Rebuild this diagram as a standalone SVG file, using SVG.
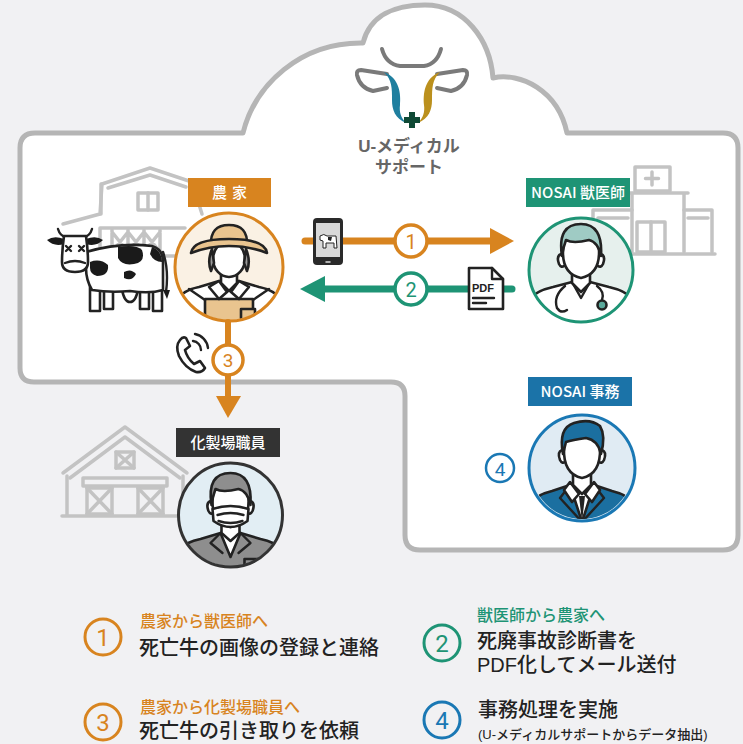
<svg xmlns="http://www.w3.org/2000/svg" width="743" height="744" viewBox="0 0 743 744">
  <style>
    .jp { font-family: "Noto Sans CJK JP", "Noto Sans", sans-serif; }
    .jl { font-family: "Liberation Sans", "Noto Sans CJK JP", sans-serif; }
    .num { font-family: Roboto, "Noto Sans", sans-serif; }
    .bld { fill: none; stroke: #c3c3c3; stroke-width: 3.5; stroke-linejoin: round; stroke-linecap: round; }
    .ink { stroke: #222; stroke-width: 2.6; stroke-linejoin: round; stroke-linecap: round; }
    .line { fill: none; stroke: #222; stroke-width: 2.4; stroke-linecap: round; stroke-linejoin: round; }
    .logo { fill: none; stroke: #7a7a7a; stroke-width: 4; stroke-linecap: round; stroke-linejoin: round; }
    .lbl { fill: #fff; font-size: 15px; font-weight: 500; text-anchor: middle; }
    .legT { font-size: 16px; font-weight: 500; }
    .legM { font-size: 20px; font-weight: 500; fill: #222; }
  </style>
  <defs>
    <clipPath id="cp54"><circle r="53"/></clipPath>
    <clipPath id="cp52"><circle r="51"/></clipPath>
  </defs>

  <!-- background -->
  <rect width="743" height="744" fill="#f1f1f3"/>

  <!-- cloud platform -->
  <path id="cloud" d="M35,133 L243,133 C255,85 300,42 363,43 C370,15 395,5 425,5 C465,5 490,40 493,78 C520,72 558,90 567,133 L723,133 Q738,133 738,148 L738,535 Q738,550 723,550 L420,550 Q405,550 405,535 L405,396 Q405,382 391,382 L34,382 Q20,382 20,368 L20,148 Q20,133 35,133 Z" fill="#fff" stroke="#b5b5b5" stroke-width="5" stroke-linejoin="round"/>

  <!-- logo -->
  <g id="logo">
    <path class="logo" d="M382,49 Q386,64 400,66 L424,66 Q437,64 441,49"/>
    <path class="logo" d="M387,74 L361,70 Q356,70 357,75 Q360,88 373,91 L387,88"/>
    <path class="logo" d="M437,74 L463,70 Q468,70 467,75 Q464,88 451,91 L437,88"/>
    <path d="M384,72 C400,78 401,95 400,105 C399,112 401,118 406,123 C395,118 392,110 392,100 C392,88 392,80 384,72 Z" fill="#1f7f9f"/>
    <path d="M440,72 C424,78 423,95 424,105 C425,112 423,118 418,123 C429,118 432,110 432,100 C432,88 432,80 440,72 Z" fill="#bb901d"/>
    <rect x="409" y="112" width="6" height="16" fill="#0f4a35"/>
    <rect x="404" y="117" width="16" height="6" fill="#0f4a35"/>
    <text class="jl" font-size="17" font-weight="700" fill="#666" text-anchor="middle"><tspan x="409" y="152">U-メディカル</tspan><tspan x="409" y="173">サポート</tspan></text>
  </g>

  <!-- farm barn -->
  <g id="farm-barn" class="bld">
    <path d="M63,224 L100,214 L102,184 L150,168 L192,182 L202,214"/>
    <path d="M108,188 L150,175 L186,187"/>
    <path d="M101,184 L101,214"/>
    <rect x="138" y="193" width="20" height="17"/>
    <path d="M148,193 L148,210"/>
    <path d="M100,228 L185,228 M100,228 L100,256 M63,256 L185,256"/>
    <path d="M112,230 L112,254 M112,232 L128,252 M128,232 L112,252 M128,230 L128,254 M128,232 L144,252 M144,232 L128,252 M144,230 L144,254 M144,232 L160,252 M160,232 L144,252 M160,230 L160,254"/>
  </g>

  <!-- dead cow -->
  <g id="cow">
    <rect x="90" y="282" width="10" height="29" fill="#fff" class="ink"/>
    <rect x="104" y="282" width="9" height="27" fill="#fff" class="ink"/>
    <rect x="140" y="282" width="9" height="27" fill="#fff" class="ink"/>
    <rect x="153" y="282" width="9" height="29" fill="#fff" class="ink"/>
    <path d="M122,289 Q124,302 130,302 Q136,302 138,289" fill="#fff" class="ink"/>
    <path d="M86,252 Q120,242 152,246 Q163,249 163,262 L163,290 Q150,294 130,291 Q110,293 92,290 Q86,280 86,268 Z" fill="#fff" class="ink"/>
    <path d="M118,247 Q136,244 142,250 Q146,262 134,264 Q122,266 118,258 Z" fill="#1a1a1a"/>
    <path d="M90,262 Q100,258 108,265 Q109,276 97,276 Q90,274 90,268 Z" fill="#1a1a1a"/>
    <path d="M152,247 Q162,251 162,262 Q154,262 150,254 Z" fill="#1a1a1a"/>
    <path d="M124,272 Q131,268 136,274 Q132,282 124,278 Z" fill="#1a1a1a"/>
    <path d="M163,252 Q169,270 166,292" class="line"/>
    <path d="M163,290 L167,299 L170,290 Z" fill="#1a1a1a"/>
    <path d="M58,229 Q60,236 66,237 M92,229 Q90,236 84,237" class="line" stroke-width="3"/>
    <path d="M64,239 Q54,235 47,240 Q54,247 64,244 Z" fill="#1a1a1a"/>
    <path d="M86,239 Q96,235 103,240 Q96,247 86,244 Z" fill="#1a1a1a"/>
    <path d="M64,236 L86,236 Q88,250 88,262 Q88,272 75,272 Q62,272 62,262 Q62,250 64,236 Z" fill="#fff" class="ink"/>
    <path d="M65,263 Q75,259 85,263" class="line" stroke-width="2"/>
    <path d="M66,246 L71,251 M71,246 L66,251 M79,246 L84,251 M84,246 L79,251" class="line" stroke-width="1.6"/>
  </g>

  <!-- farmer -->
  <g id="farmer" transform="translate(229,267)">
    <circle r="54" fill="#faf1e4"/>
    <g clip-path="url(#cp54)">
      <path d="M-60,75 L-54,38 Q-50,24 -30,20 L-10,14 L10,14 L30,20 Q50,24 54,38 L60,75 Z" fill="#fff" class="ink"/>
      <path d="M-24,75 L-24,32 L24,32 L24,75 Z" fill="#e9c48f" class="ink"/>
      <path d="M-24,33 L-40,22 M24,33 L40,22" class="line"/>
      <path d="M12,42 h14 v9 q-7,4 -14,0 z" fill="#e9c48f" class="ink"/>
    </g>
    <path d="M-8,2 L-8,16 L0,24 L8,16 L8,2" fill="#fff" class="ink"/>
    <path d="M-10,14 L-2,25 L-10,32 L-20,20 Z" fill="#fff" class="ink"/>
    <path d="M10,14 L2,25 L10,32 L20,20 Z" fill="#fff" class="ink"/>
    <ellipse cy="-8" rx="16" ry="18" fill="#fff" class="ink"/>
    <path d="M-17,-18 Q-22,-6 -18,4 L-15,-4 Z M17,-18 Q22,-6 18,4 L15,-4 Z" fill="#9a9a9a" class="ink" stroke-width="2"/>
    <path d="M-18,-22 Q-19,-42 0,-42 Q19,-42 18,-22 Z" fill="#e9c48f" class="ink"/>
    <path d="M-38,-14 Q-36,-28 0,-28 Q36,-28 38,-14 Q20,-21 0,-21 Q-20,-21 -38,-14 Z" fill="#e9c48f" class="ink"/>
    <circle r="54" fill="none" stroke="#d8841f" stroke-width="3"/>
  </g>
  <g id="farmer-label">
    <rect x="188" y="178" width="83" height="29" fill="#d8841f"/>
    <text class="jp lbl" x="232" y="198" font-size="16" letter-spacing="5">農家</text>
  </g>

  <!-- clinic -->
  <g id="clinic" class="bld">
    <rect x="635" y="167" width="35" height="24"/>
    <path d="M652,172 L652,185 M645.5,178.5 L658.5,178.5"/>
    <path d="M628,193 L688,193 M632,193 L632,252 M684,193 L684,252"/>
    <path d="M593,210 L632,210 M684,210 L712,210 M593,210 L593,252 M712,210 L712,252"/>
    <path d="M598,218 L628,218 M688,218 L708,218"/>
    <rect x="637" y="222" width="28" height="30"/>
    <path d="M651,222 L651,252"/>
    <path d="M590,254 L715,254"/>
  </g>

  <!-- vet -->
  <g id="vet" transform="translate(581,270)">
    <circle r="52" fill="#e6f0ed"/>
    <g clip-path="url(#cp52)">
      <path d="M-60,75 L-54,34 Q-50,22 -28,17 L-9,12 L9,12 L28,17 Q50,22 54,34 L60,75 Z" fill="#fff" class="ink"/>
      <path d="M-9,12 L0,28 L9,12" class="line"/>
      <path d="M-36,40 L-36,60 M36,40 L36,60" class="line"/>
      <path d="M-16,16 Q-28,26 -24,38 Q-20,44 -14,40" class="line"/>
      <path d="M16,16 Q24,22 21,30" class="line"/>
      <circle cx="21" cy="35" r="4.5" fill="#5aa99b" class="ink" stroke-width="2"/>
    </g>
    <path d="M-9,0 L-9,13 L0,22 L9,13 L9,0" fill="#fff" class="ink"/>
    <path d="M-20,-16 Q-25,-14 -22,-6 Q-20,-2 -17,-4 M20,-16 Q25,-14 22,-6 Q20,-2 17,-4" fill="#fff" class="ink"/>
    <path d="M-18,-20 Q-19,4 0,8 Q19,4 18,-20 Q16,-42 0,-42 Q-16,-42 -18,-20 Z" fill="#fff" class="ink"/>
    <path d="M-19,-14 Q-24,-46 0,-46 Q22,-46 20,-14 Q17,-28 8,-30 Q-8,-26 -15,-30 Q-18,-22 -19,-14 Z" fill="#9fcbc4" class="ink"/>
    <circle r="52" fill="none" stroke="#1e9475" stroke-width="3"/>
  </g>
  <g id="vet-label">
    <rect x="526" y="178" width="104" height="29" fill="#1e9475"/>
    <text class="jp lbl" x="578" y="198">NOSAI 獣医師</text>
  </g>

  <!-- rendering plant barn -->
  <g id="plant-barn" class="bld">
    <path d="M63,473 L125,427 L187,473"/>
    <path d="M70,478 L125,437 L180,478"/>
    <path d="M67,476 L67,515 M183,476 L183,515"/>
    <rect x="116" y="452" width="18" height="16"/>
    <path d="M116,452 L134,468 M134,452 L116,468"/>
    <rect x="83" y="478" width="84" height="8"/>
    <rect x="87" y="488" width="25" height="26"/>
    <path d="M87,488 L112,514 M112,488 L87,514"/>
    <rect x="138" y="488" width="25" height="26"/>
    <path d="M138,488 L163,514 M163,488 L138,514"/>
    <path d="M62,516 L185,516"/>
  </g>

  <!-- rendering plant staff -->
  <g id="plant-staff" transform="translate(230.5,515)">
    <circle r="52" fill="#e2eef4"/>
    <g clip-path="url(#cp52)">
      <path d="M-60,75 L-54,40 Q-50,28 -30,24 L-10,18 L10,18 L30,24 Q50,28 54,40 L60,75 Z" fill="#8e8e8e" class="ink"/>
      <path d="M-10,18 L0,42 L10,18 Z" fill="#fff" class="ink"/>
      <path d="M-10,18 L-20,28 L-8,38 M10,18 L20,28 L8,38" class="line"/>
      <path d="M-36,44 L-36,62 M36,44 L36,62" class="line"/>
      <rect x="14" y="44" width="14" height="10" fill="#8e8e8e" class="ink"/>
    </g>
    <path d="M-9,4 L-9,18 L0,26 L9,18 L9,4" fill="#fff" class="ink"/>
    <path d="M-20,-14 Q-25,-12 -22,-4 Q-20,0 -17,-2 M20,-14 Q25,-12 22,-4 Q20,0 17,-2" fill="#fff" class="ink"/>
    <path d="M-18,-16 Q-19,8 0,12 Q19,8 18,-16 Q16,-38 0,-38 Q-16,-38 -18,-16 Z" fill="#fff" class="ink"/>
    <path d="M-19,-10 Q-24,-42 0,-42 Q22,-42 20,-10 Q17,-24 8,-26 Q-8,-22 -15,-26 Q-18,-18 -19,-10 Z" fill="#8e8e8e" class="ink"/>
    <path d="M-18,-6 Q0,-12 18,-6 L17,6 Q0,18 -17,6 Z" fill="#fff" class="ink"/>
    <path d="M-13,0 Q0,-4 13,0 M-12,6 Q0,10 12,6" class="line" stroke-width="1.6"/>
    <circle r="52" fill="none" stroke="#333" stroke-width="3"/>
  </g>
  <g id="plant-label">
    <rect x="176" y="428" width="104" height="29" fill="#333"/>
    <text class="jp lbl" x="228" y="448" font-size="14.5">化製場職員</text>
  </g>

  <!-- NOSAI office clerk -->
  <g id="office" transform="translate(582,468)">
    <circle r="53" fill="#e0ebf3"/>
    <g clip-path="url(#cp52)">
      <path d="M-60,75 L-54,40 Q-50,28 -30,23 L-12,17 L12,17 L30,23 Q50,28 54,40 L60,75 Z" fill="#1b6fa0" class="ink"/>
      <path d="M-12,17 L0,54 L12,17 Z" fill="#fff" class="ink"/>
      <path d="M-3,28 L0,54 L3,28 Z" fill="#222"/>
      <path d="M-12,17 L-22,30 L0,54 L22,30 L12,17" class="line"/>
      <path d="M-36,44 L-36,62 M36,44 L36,62" class="line"/>
    </g>
    <path d="M-9,2 L-9,17 L0,26 L9,17 L9,2" fill="#fff" class="ink"/>
    <path d="M-12,14 L-3,26 L-10,34 L-18,22 Z M12,14 L3,26 L10,34 L18,22 Z" fill="#fff" class="ink"/>
    <path d="M-20,-18 Q-25,-16 -22,-8 Q-20,-4 -17,-6 M20,-18 Q25,-16 22,-8 Q20,-4 17,-6" fill="#fff" class="ink"/>
    <path d="M-18,-20 Q-19,6 0,10 Q19,6 18,-20 Q16,-40 0,-40 Q-16,-40 -18,-20 Z" fill="#fff" class="ink"/>
    <path d="M-19,-14 Q-24,-40 -8,-45 Q8,-50 18,-42 Q24,-32 19,-14 Q16,-28 4,-30 Q-10,-28 -16,-26 Z" fill="#1b6fa0" class="ink"/>
    <circle r="53" fill="none" stroke="#1a78b4" stroke-width="3"/>
  </g>
  <g id="office-label">
    <rect x="528" y="377" width="104" height="29" fill="#1b73a8"/>
    <text class="jp lbl" x="580" y="397" font-size="14.5">NOSAI 事務</text>
  </g>
  <g id="office-step">
    <circle cx="500" cy="468" r="14" fill="#fff" stroke="#1a78b4" stroke-width="2.5"/>
    <text class="num" x="500" y="475.5" font-size="19" fill="#1a78b4" text-anchor="middle">4</text>
  </g>

  <!-- connectors -->
  <g id="connectors">
    <path d="M305,241 L492,241" stroke="#d8841f" stroke-width="7" stroke-linecap="round"/>
    <polygon points="490,228 514,241 490,254" fill="#d8841f"/>
    <circle cx="411" cy="241" r="16" fill="#fff" stroke="#d8841f" stroke-width="3.5"/>
    <text class="num" x="411" y="248.5" font-size="20" fill="#d8841f" text-anchor="middle">1</text>

    <path d="M512,289 L322,289" stroke="#1e9475" stroke-width="7" stroke-linecap="round"/>
    <polygon points="325,276 300,289 325,302" fill="#1e9475"/>
    <circle cx="411" cy="289" r="16" fill="#fff" stroke="#1e9475" stroke-width="3.5"/>
    <text class="num" x="411" y="296.5" font-size="20" fill="#1e9475" text-anchor="middle">2</text>

    <path d="M228,322 L228,398" stroke="#d8841f" stroke-width="6" stroke-linecap="round"/>
    <polygon points="216,396 228,418 241,396" fill="#d8841f"/>
    <circle cx="228" cy="360" r="15" fill="#fff" stroke="#d8841f" stroke-width="3.5"/>
    <text class="num" x="228" y="367" font-size="19" fill="#d8841f" text-anchor="middle">3</text>
  </g>

  <!-- smartphone with cow photo -->
  <g id="smartphone">
    <rect x="313" y="218" width="30" height="47" rx="4" fill="#2a2a2a"/>
    <rect x="316" y="223" width="24" height="34" fill="#d9d9d9"/>
    <path d="M326,262 L330,262" stroke="#ddd" stroke-width="1.5" stroke-linecap="round"/>
    <path d="M320,236 Q324,233 327,236 L336,236 L337,248 L334,248 L334,243 L326,243 L326,248 L323,248 L323,241 L320,240 Z" fill="#fff" stroke="#222" stroke-width="1"/>
    <path d="M328,237 L332,237 L331,241 L328,240 Z" fill="#222"/>
  </g>

  <!-- PDF document -->
  <g id="pdf">
    <path d="M469,268 L492,268 L503,279 L503,309 L469,309 Z" fill="#fff" class="ink"/>
    <path d="M492,268 L492,279 L503,279" class="line"/>
    <text x="472" y="292" font-family="'Liberation Sans', Arial, sans-serif" font-size="11" font-weight="700" fill="#222">PDF</text>
    <path d="M473,298 L494,298 M473,303 L486,303" class="line" stroke-width="2"/>
  </g>

  <!-- telephone -->
  <g id="telephone">
    <path d="M180,340 Q175,346 179,356 Q185,368 196,372 Q202,373 205,368 L200,361 L194,364 Q187,358 185,350 L190,346 L186,338 Q183,336 180,340 Z" fill="#fff" class="ink" stroke-width="2.2"/>
    <path d="M193,341 A9 9 0 0 1 201,350 M195,334 A16 16 0 0 1 208,348" class="line" stroke-width="2.2"/>
  </g>

  <!-- legend -->
  <g id="legend">
    <circle cx="103" cy="637" r="18" fill="none" stroke="#d8841f" stroke-width="3"/>
    <text class="num" x="103" y="645.5" font-size="24" fill="#d8841f" text-anchor="middle">1</text>
    <text class="jl"><tspan class="legT" x="140" y="627" fill="#d8841f">農家から獣医師へ</tspan><tspan class="legM" x="139" y="655">死亡牛の画像の登録と連絡</tspan></text>

    <circle cx="103" cy="722" r="18" fill="none" stroke="#d8841f" stroke-width="3"/>
    <text class="num" x="103" y="730.5" font-size="24" fill="#d8841f" text-anchor="middle">3</text>
    <text class="jl"><tspan class="legT" x="140" y="713" fill="#d8841f">農家から化製場職員へ</tspan><tspan class="legM" x="139" y="738">死亡牛の引き取りを依頼</tspan></text>

    <circle cx="442" cy="643" r="18" fill="none" stroke="#1e9475" stroke-width="3"/>
    <text class="num" x="442" y="651.5" font-size="24" fill="#1e9475" text-anchor="middle">2</text>
    <text class="jl"><tspan class="legT" x="477" y="621" fill="#1e9475">獣医師から農家へ</tspan><tspan class="legM" x="477" y="648">死廃事故診断書を</tspan><tspan class="legM" x="477" y="672">PDF化してメール送付</tspan></text>

    <circle cx="442" cy="720" r="18" fill="none" stroke="#1a78b4" stroke-width="3"/>
    <text class="num" x="442" y="728.5" font-size="24" fill="#1a78b4" text-anchor="middle">4</text>
    <text class="jl"><tspan class="legM" x="478" y="717">事務処理を実施</tspan><tspan x="478" y="739" font-size="13" font-weight="500" fill="#222">(U-メディカルサポートからデータ抽出)</tspan></text>
  </g>
</svg>
